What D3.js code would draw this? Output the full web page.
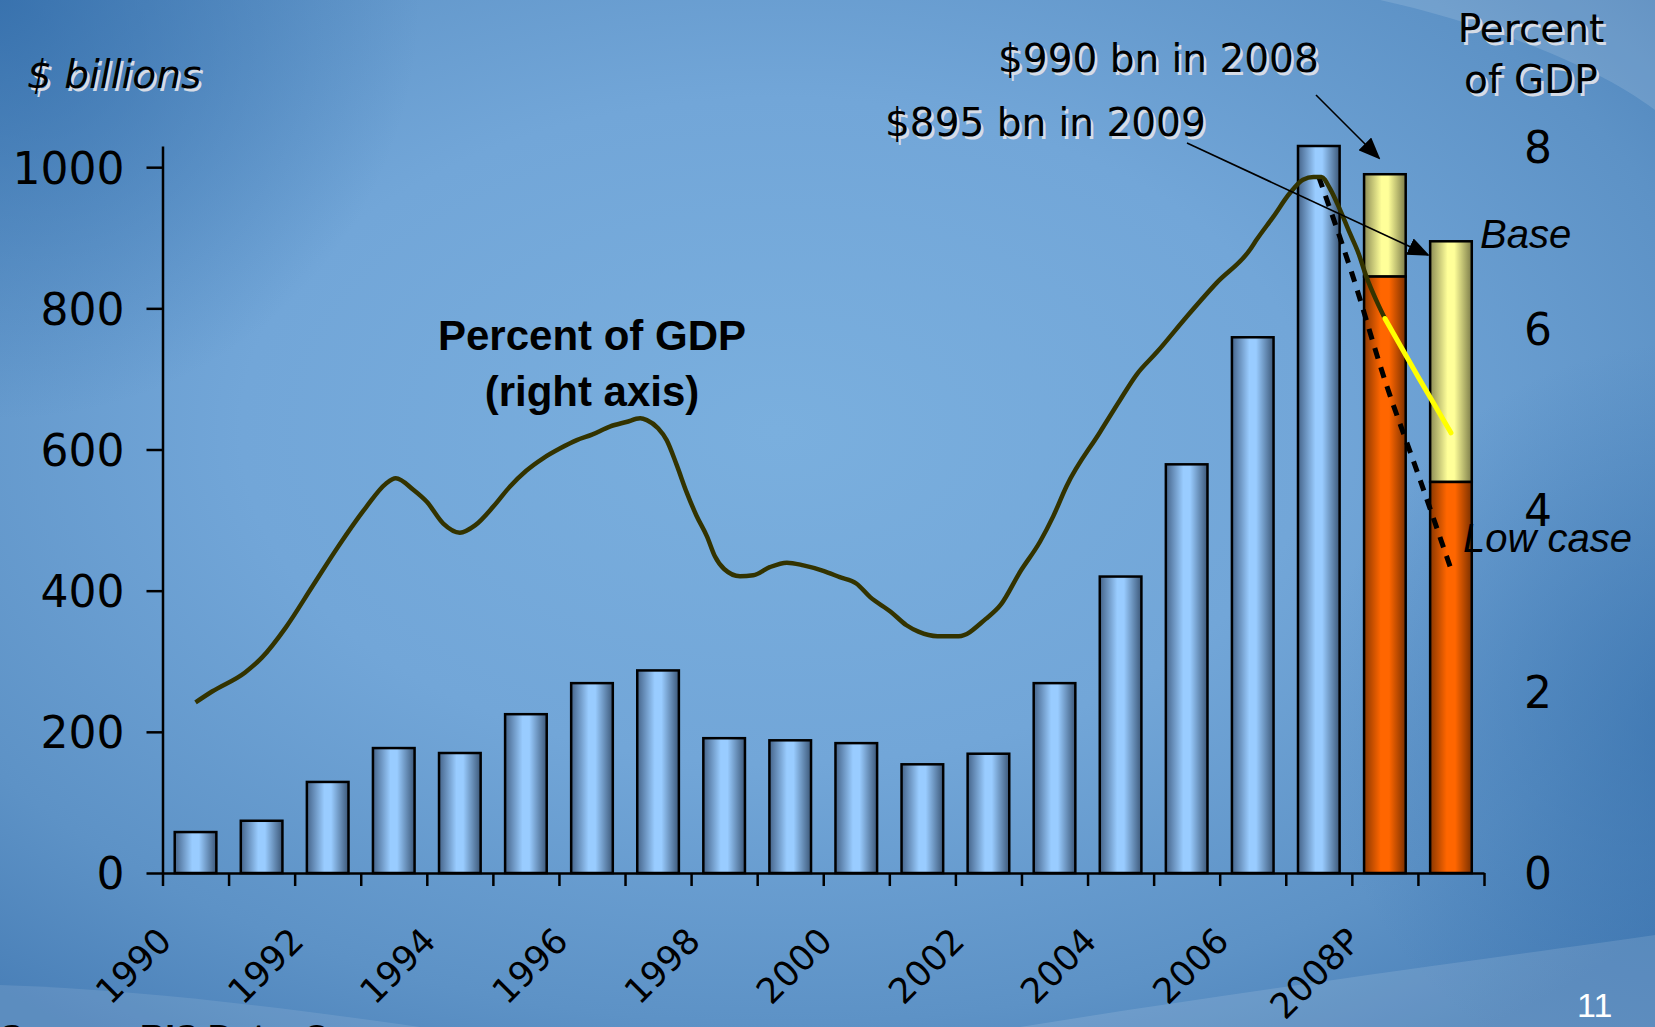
<!DOCTYPE html>
<html>
<head>
<meta charset="utf-8">
<script src="https://cdn.jsdelivr.net/npm/d3@7"></script>
<style>
  html, body { margin: 0; padding: 0; background: #5a8ec2; }
  svg { display: block; }
</style>
</head>
<body>
<svg id="chart" width="1655" height="1027"></svg>
<script>
// ---------------- DATA ----------------
const categories = ["1990","1991","1992","1993","1994","1995","1996","1997","1998","1999",
                    "2000","2001","2002","2003","2004","2005","2006","2007","2008P","2009P"];
const tickLabels = ["1990","1992","1994","1996","1998","2000","2002","2004","2006","2008P"];
// Net private capital flows, $ billions (actual, 1990-2007)
const actualFlows = [58, 74, 129, 177, 170, 225, 269, 287, 191, 188,
                     184, 154, 169, 269, 420, 579, 759, 1030];
// Projections for 2008P and 2009P
const projCategories = ["2008P", "2009P"];
const lowCase  = [845, 554];
const baseCase = [990, 895];
const leftTicks  = [0, 200, 400, 600, 800, 1000];
const rightTicks = [0, 2, 4, 6, 8];
// Percent of GDP (right axis)
const pctTime  = [1990.0,1990.25,1990.75,1991.0,1991.37,1991.77,1992.17,1992.58,1992.88,1993.03,
                  1993.3,1993.5,1993.75,1994.0,1994.23,1994.51,1994.76,1995.0,1995.26,1995.52,
                  1995.77,1996.0,1996.27,1996.52,1996.73,1996.83,1997.0,1997.13,1997.28,1997.43,
                  1997.58,1997.74,1997.86,1998.0,1998.24,1998.44,1998.69,1998.95,1999.2,1999.5,
                  1999.75,2000.0,2000.21,2000.52,2000.76,2000.94,2001.23,2001.55,2001.96,2002.19,
                  2002.48,2002.78,2002.98,2003.18,2003.69,2003.99,2004.24,2004.55,2005.0,2005.45,
                  2005.96,2006.06,2006.31,2006.56,2006.76,2006.92,2007.04,2007.17,2007.32,2007.47,
                  2007.6,2007.72,2007.87,2008.0];
const pctValue = [1.88,2.0,2.21,2.37,2.71,3.16,3.61,4.03,4.29,4.35,
                  4.22,4.09,3.85,3.75,3.83,4.04,4.26,4.43,4.57,4.68,
                  4.77,4.83,4.92,4.97,5.01,4.99,4.90,4.77,4.50,4.20,
                  3.94,3.71,3.49,3.35,3.27,3.28,3.37,3.42,3.39,3.33,
                  3.26,3.19,3.04,2.88,2.73,2.66,2.61,2.61,2.80,2.96,
                  3.32,3.65,3.93,4.26,4.86,5.21,5.49,5.74,6.13,6.50,
                  6.87,6.98,7.23,7.49,7.64,7.67,7.67,7.54,7.31,7.05,
                  6.83,6.57,6.31,6.11];
const baseTime = [2008.0, 2008.5, 2009.0];
const baseValue = [6.11, 5.47, 4.85];
const lowTime  = [2007.0, 2007.5, 2008.0, 2008.5, 2009.0];
const lowValue = [7.67, 6.61, 5.43, 4.40, 3.35];

// ---------------- SETUP ----------------
const W = 1655, H = 1027;
const svg = d3.select("#chart");
const defs = svg.append("defs");

// background gradients
const bg = defs.append("radialGradient").attr("id","bgRad")
  .attr("cx","0.47").attr("cy","0.42").attr("r","0.72");
[["0","#7aafde"],["0.45","#72a6d8"],["0.8","#5d92c6"],["1","#4a80b8"]]
  .forEach(([o,c]) => bg.append("stop").attr("offset",o).attr("stop-color",c));
const tl = defs.append("radialGradient").attr("id","bgTL")
  .attr("gradientUnits","userSpaceOnUse").attr("cx",0).attr("cy",0).attr("r",420);
tl.append("stop").attr("offset","0").attr("stop-color","#2f6aa8").attr("stop-opacity",0.75);
tl.append("stop").attr("offset","1").attr("stop-color","#2f6aa8").attr("stop-opacity",0);
const rt = defs.append("radialGradient").attr("id","bgR")
  .attr("gradientUnits","userSpaceOnUse").attr("cx",1700).attr("cy",720).attr("r",380);
rt.append("stop").attr("offset","0").attr("stop-color","#2f6aa8").attr("stop-opacity",0.6);
rt.append("stop").attr("offset","1").attr("stop-color","#2f6aa8").attr("stop-opacity",0);

function hGrad(id, stops) {
  const g = defs.append("linearGradient").attr("id", id)
    .attr("x1","0").attr("x2","1").attr("y1","0").attr("y2","0");
  stops.forEach(([o,c]) => g.append("stop").attr("offset",o).attr("stop-color",c));
}
hGrad("blueGrad",   [["0","#45648a"],["0.42","#99ccff"],["0.58","#99ccff"],["1","#3c5879"]]);
hGrad("yellowGrad", [["0","#8c8c55"],["0.42","#ffff99"],["0.58","#ffff99"],["1","#7c7c4a"]]);
hGrad("orangeGrad", [["0","#8a3700"],["0.4","#ff6600"],["0.6","#ff6600"],["1","#7a3000"]]);

defs.append("marker").attr("id","arrow")
  .attr("markerUnits","userSpaceOnUse").attr("markerWidth",22).attr("markerHeight",18)
  .attr("viewBox","0 0 22 18").attr("refX",20).attr("refY",9).attr("orient","auto")
  .append("path").attr("d","M0,0 L22,9 L0,18 Z").attr("fill","#000");

// background
svg.append("rect").attr("width",W).attr("height",H).attr("fill","url(#bgRad)");
svg.append("rect").attr("width",W).attr("height",H).attr("fill","url(#bgTL)");
svg.append("rect").attr("width",W).attr("height",H).attr("fill","url(#bgR)");
// light swooshes
svg.append("path").attr("d","M1380,0 C1470,20 1590,60 1655,110 L1655,0 Z")
  .attr("fill","#ffffff").attr("opacity",0.13);
svg.append("path").attr("d","M1020,1027 C1250,990 1480,960 1655,935 L1655,1027 Z")
  .attr("fill","#ffffff").attr("opacity",0.12);
svg.append("path").attr("d","M0,985 C150,990 300,1010 420,1027 L0,1027 Z")
  .attr("fill","#ffffff").attr("opacity",0.10);

// scales
const x0 = 162.5, x1 = 1484, yBase = 873;
const xBand = d3.scaleBand().domain(categories).range([x0, x1])
  .paddingInner(0.37).paddingOuter(0.185);
const xTime = d3.scaleLinear().domain([1989.5, 2009.5]).range([x0, x1]);
const yLeft = d3.scaleLinear().domain([0, 1030]).range([yBase, 146]);
const yRight = d3.scaleLinear().domain([0, 8]).range([yBase, 147]);

const numFont = "'DejaVu Sans', Verdana, sans-serif";

// bars (actual)
svg.append("g").selectAll("rect").data(actualFlows).join("rect")
  .attr("x", (d,i) => xBand(categories[i]))
  .attr("width", xBand.bandwidth())
  .attr("y", d => yLeft(d))
  .attr("height", d => yBase - yLeft(d))
  .attr("fill","url(#blueGrad)").attr("stroke","#000").attr("stroke-width",2.5);

// projection bars: low case (orange) + base addition (yellow)
const proj = svg.append("g");
proj.selectAll("rect.base").data(baseCase).join("rect").attr("class","base")
  .attr("x", (d,i) => xBand(projCategories[i]))
  .attr("width", xBand.bandwidth())
  .attr("y", d => yLeft(d))
  .attr("height", (d,i) => yLeft(lowCase[i]) - yLeft(d))
  .attr("fill","url(#yellowGrad)").attr("stroke","#000").attr("stroke-width",2.5);
proj.selectAll("rect.low").data(lowCase).join("rect").attr("class","low")
  .attr("x", (d,i) => xBand(projCategories[i]))
  .attr("width", xBand.bandwidth())
  .attr("y", d => yLeft(d))
  .attr("height", d => yBase - yLeft(d))
  .attr("fill","url(#orangeGrad)").attr("stroke","#000").attr("stroke-width",2.5);

// axes
const axL = svg.append("g").attr("transform",`translate(${x0},0)`)
  .call(d3.axisLeft(yLeft).tickValues(leftTicks).tickFormat(d3.format("d"))
    .tickSize(16).tickSizeOuter(0).tickPadding(22));
axL.select(".domain").attr("stroke","#000").attr("stroke-width",2.5);
axL.selectAll(".tick line").attr("stroke","#000").attr("stroke-width",2.5);
axL.selectAll(".tick text").attr("font-family",numFont).attr("font-size",44).attr("fill","#000")
  .attr("dy","0.36em");

const boundaries = d3.range(categories.length + 1).map(i => 1989.5 + i);
const axB = svg.append("g").attr("transform",`translate(0,${yBase})`)
  .call(d3.axisBottom(xTime).tickValues(boundaries).tickSize(13).tickSizeOuter(0).tickFormat(""));
axB.select(".domain").attr("stroke","#000").attr("stroke-width",2.5);
axB.selectAll(".tick line").attr("stroke","#000").attr("stroke-width",2.5);

const axR = svg.append("g").attr("transform",`translate(1538,0)`)
  .call(d3.axisRight(yRight).tickValues(rightTicks).tickSize(0).tickPadding(0));
axR.select(".domain").remove();
axR.selectAll(".tick text").attr("font-family",numFont).attr("font-size",44).attr("fill","#000")
  .attr("text-anchor","middle").attr("x",0).attr("dy","0.36em");

// x tick labels
svg.append("g").selectAll("text").data(tickLabels).join("text")
  .attr("transform", d => `translate(${xBand(d) + xBand.bandwidth()/2 - 22},943) rotate(-45)`)
  .attr("text-anchor","end")
  .attr("font-family",numFont).attr("font-size",35).attr("fill","#000")
  .text(d => d);

// lines
const lineGen = d3.line().x(d => xTime(d[0])).y(d => yRight(d[1])).curve(d3.curveMonotoneX);
svg.append("path").datum(d3.zip(lowTime, lowValue)).attr("d", lineGen)
  .attr("fill","none").attr("stroke","#000").attr("stroke-width",5)
  .attr("stroke-dasharray","11,9");
svg.append("path").datum(d3.zip(pctTime, pctValue)).attr("d", lineGen)
  .attr("fill","none").attr("stroke","#333300").attr("stroke-width",4.5)
  .attr("stroke-linejoin","round");
svg.append("path").datum(d3.zip(baseTime, baseValue)).attr("d", lineGen)
  .attr("fill","none").attr("stroke","#ffff00").attr("stroke-width",5)
  .attr("stroke-linecap","round");

// text helpers
function shadowText(x, y, txt, font, size, style, weight) {
  [["#d6dce6", 2.5], ["#000", 0]].forEach(([c, off]) => {
    svg.append("text").attr("x", x + off).attr("y", y + off)
      .attr("font-family", font).attr("font-size", size)
      .attr("font-style", style || "normal").attr("font-weight", weight || "normal")
      .attr("fill", c).text(txt);
  });
}
shadowText(27, 88, "$ billions", numFont, 39, "oblique");
shadowText(998, 72, "$990 bn in 2008", numFont, 39);
shadowText(885, 136, "$895 bn in 2009", numFont, 39);

["Percent", "of GDP"].forEach((t, i) => {
  [["#d6dce6", 2.5], ["#000", 0]].forEach(([c, off]) => {
    svg.append("text").attr("x", 1531 + off).attr("y", (i === 0 ? 42 : 93) + off)
      .attr("text-anchor","middle").attr("font-family",numFont).attr("font-size",39)
      .attr("fill",c).text(t);
  });
});

const arial = "'Liberation Sans', Arial, sans-serif";
svg.append("text").attr("x",592).attr("y",350).attr("text-anchor","middle")
  .attr("font-family",arial).attr("font-weight","bold").attr("font-size",42).attr("fill","#000")
  .text("Percent of GDP");
svg.append("text").attr("x",592).attr("y",406).attr("text-anchor","middle")
  .attr("font-family",arial).attr("font-weight","bold").attr("font-size",42).attr("fill","#000")
  .text("(right axis)");

svg.append("text").attr("x",1480).attr("y",248)
  .attr("font-family",arial).attr("font-style","italic").attr("font-size",40).attr("fill","#000")
  .text("Base");
svg.append("text").attr("x",1463).attr("y",552)
  .attr("font-family",arial).attr("font-style","italic").attr("font-size",40).attr("fill","#000")
  .text("Low case");

// arrows
svg.append("line").attr("x1",1316).attr("y1",95).attr("x2",1379).attr("y2",158)
  .attr("stroke","#000").attr("stroke-width",1.6).attr("marker-end","url(#arrow)");
svg.append("line").attr("x1",1187).attr("y1",143).attr("x2",1428).attr("y2",255)
  .attr("stroke","#000").attr("stroke-width",1.6).attr("marker-end","url(#arrow)");

// page number
svg.append("text").attr("x",1577).attr("y",1017)
  .attr("font-family",arial).attr("font-size",34).attr("fill","#ffffff").text("11");

// source line (cut off at the bottom of the slide)
svg.append("text").attr("x",0).attr("y",1049)
  .attr("font-family",arial).attr("font-weight","bold").attr("font-size",35).attr("fill","#000")
  .text("Source: BIS Data, Consensus");
</script>
</body>
</html>
